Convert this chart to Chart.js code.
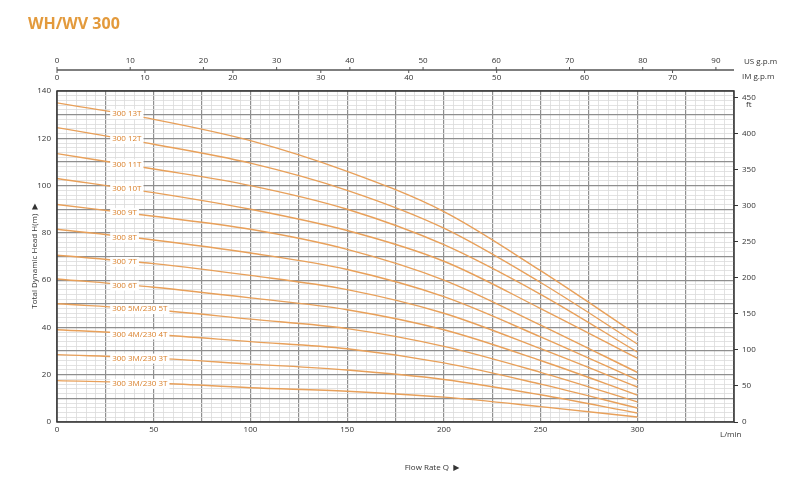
<!DOCTYPE html>
<html><head><meta charset="utf-8">
<script src="https://cdn.jsdelivr.net/npm/chart.js@4.4.0/dist/chart.umd.min.js"></script>
<style>html,body{margin:0;padding:0;background:#fff}#w{width:800px;height:480px}</style>
</head><body><div id="w"><canvas id="c"></canvas></div>
<script>
const flow = [0, 50, 100, 150, 200, 250, 300];
const h13 = [135, 128, 119, 106, 89, 64, 36.8];
const h12 = [124.5, 117.5, 109.5, 98, 82, 59, 33];
const h11 = [113.5, 107, 100, 90, 75, 54, 29.6];
const h10 = [103, 97, 90, 81, 68, 48, 27];
const h9 = [92, 87, 81.5, 73, 60, 41, 21];
const h8 = [81.5, 77, 71.5, 64.5, 53, 36, 17.8];
const h7 = [70.5, 67, 62, 56, 46, 31, 14.8];
const h6 = [60.5, 57, 52.5, 47.5, 39, 26, 11.4];
const h5 = [50, 47.5, 43.5, 39.5, 32, 21, 8.5];
const h4 = [39, 37, 34, 31, 25, 16, 5.9];
const h3 = [28.5, 27, 24.5, 22, 18, 11.5, 3.8];
const h2 = [17.5, 16.5, 14.5, 13, 10.5, 6.5, 2.1];
const curves = [h13, h12, h11, h10, h9, h8, h7, h6, h5, h4, h3, h2];
const names = ['300 13T','300 12T','300 11T','300 10T','300 9T','300 8T','300 7T','300 6T','300 5M/230 5T','300 4M/230 4T','300 3M/230 3T','300 3M/230 3T'];
const usTicks = [0,10,20,30,40,50,60,70,80,90];
const imTicks = [0,10,20,30,40,50,60,70];
const ftTicks = [0,50,100,150,200,250,300,350,400,450];
const LPM_PER_US = 3.785, LPM_PER_IM = 4.546, FT_PER_M = 3.2808;
const ORANGE = '#e8a05a';
const F = 'Open Sans, DejaVu Sans, sans-serif';

const datasets = curves.map((c, i) => ({
  label: names[i], data: flow.map((q, j) => ({x: q, y: c[j]})),
  borderColor: ORANGE, borderWidth: 1.4, pointRadius: 0, cubicInterpolationMode: 'monotone', fill: false, yAxisID: 'y'
}));
datasets.push({data: [], yAxisID: 'ft'});

const deco = {
  id: 'deco',
  afterDatasetsDraw(ch) {
    const g = ch.ctx, x = ch.scales.x, y = ch.scales.y, a = ch.chartArea;
    g.save();
    g.font = '8px ' + F; g.textBaseline = 'middle'; g.textAlign = 'left';
    const qL = 28;
    curves.forEach((c, i) => {
      const v = c[0] + (c[1] - c[0]) * qL / 50;
      const px = x.getPixelForValue(qL), py = y.getPixelForValue(v) + 2;
      const w = g.measureText(names[i]).width;
      g.fillStyle = '#fff'; g.fillRect(px - 1, py - 5, w + 4, 10);
      g.fillStyle = '#d9802b'; g.fillText(names[i], px + 1, py);
    });
    g.strokeStyle = '#555'; g.lineWidth = 1.5;
    const ly = 70;
    g.beginPath(); g.moveTo(a.left, ly); g.lineTo(a.right, ly); g.stroke();
    g.fillStyle = '#333'; g.font = '8px ' + F; g.textAlign = 'center';
    g.lineWidth = 1;
    usTicks.forEach(t => {
      const px = x.getPixelForValue(t * LPM_PER_US);
      g.beginPath(); g.moveTo(px, ly - 3); g.lineTo(px, ly); g.stroke();
      g.fillText(String(t), px, ly - 9);
    });
    imTicks.forEach(t => {
      const px = x.getPixelForValue(t * LPM_PER_IM);
      g.beginPath(); g.moveTo(px, ly); g.lineTo(px, ly + 3); g.stroke();
      g.fillText(String(t), px, ly + 8);
    });
    g.textAlign = 'left';
    g.fillText('US g.p.m', 744, 62);
    g.fillText('IM g.p.m', 742, 77);
    g.fillText('ft', 746, 105);
    g.fillText('L/min', 720, 435);
    g.textAlign = 'center';
    g.fillText('Flow Rate Q  \u25B6', 432, 468);
    g.save(); g.translate(35, 256); g.rotate(-Math.PI / 2);
    g.fillText('Total Dynamic Head H(m)  \u25B6', 0, 0); g.restore();
    g.fillStyle = '#e39a3c'; g.font = 'bold 16px ' + F; g.textAlign = 'left';
    g.fillText('WH/WV 300', 28, 24);
    g.strokeStyle = '#333'; g.lineWidth = 1.5;
    g.strokeRect(a.left, a.top, a.right - a.left, a.bottom - a.top);
    g.restore();
  }
};

new Chart(document.getElementById('c'), {
  type: 'line',
  data: {datasets},
  options: {
    responsive: true, maintainAspectRatio: false, animation: false,
    layout: {padding: {top: 91, bottom: 33, left: 0, right: 0}},
    plugins: {legend: {display: false}, tooltip: {enabled: false}},
    scales: {
      x: {type: 'linear', min: 0, max: 350,
        afterFit: s => { s.height = 25; },
        afterBuildTicks: s => { s.ticks = []; for (let v = 0; v <= 350; v += 5) s.ticks.push({value: v}); },
        ticks: {autoSkip: false, maxRotation: 0, color: '#333', font: {size: 8, family: F},
          callback: v => (v % 50 === 0 && v < 350) ? String(v) : ''},
        grid: {color: c => c.tick && c.tick.value % 25 === 0 ? '#8f8f8f' : '#dadada',
          lineWidth: c => c.tick && c.tick.value % 25 === 0 ? 1.2 : 0.8, drawTicks: false},
        border: {display: false}},
      y: {type: 'linear', min: 0, max: 140,
        afterFit: s => { s.width = 57; },
        afterBuildTicks: s => { s.ticks = []; for (let v = 0; v <= 140; v += 2) s.ticks.push({value: v}); },
        ticks: {autoSkip: false, color: '#333', font: {size: 8, family: F}, padding: 6,
          callback: v => v % 20 === 0 ? String(v) : ''},
        grid: {color: c => c.tick && c.tick.value % 10 === 0 ? '#8f8f8f' : '#dadada',
          lineWidth: c => c.tick && c.tick.value % 10 === 0 ? 1.2 : 0.8, drawTicks: false},
        border: {display: false}},
      ft: {type: 'linear', position: 'right', min: 0, max: 140 * FT_PER_M,
        afterFit: s => { s.width = 66; },
        afterBuildTicks: s => { s.ticks = ftTicks.map(v => ({value: v})); },
        ticks: {color: '#333', font: {size: 8, family: F}, padding: 4},
        grid: {drawOnChartArea: false, drawTicks: true, tickLength: 4, color: '#333'},
        border: {display: false}}
    }
  },
  plugins: [deco]
});
</script></body></html>
